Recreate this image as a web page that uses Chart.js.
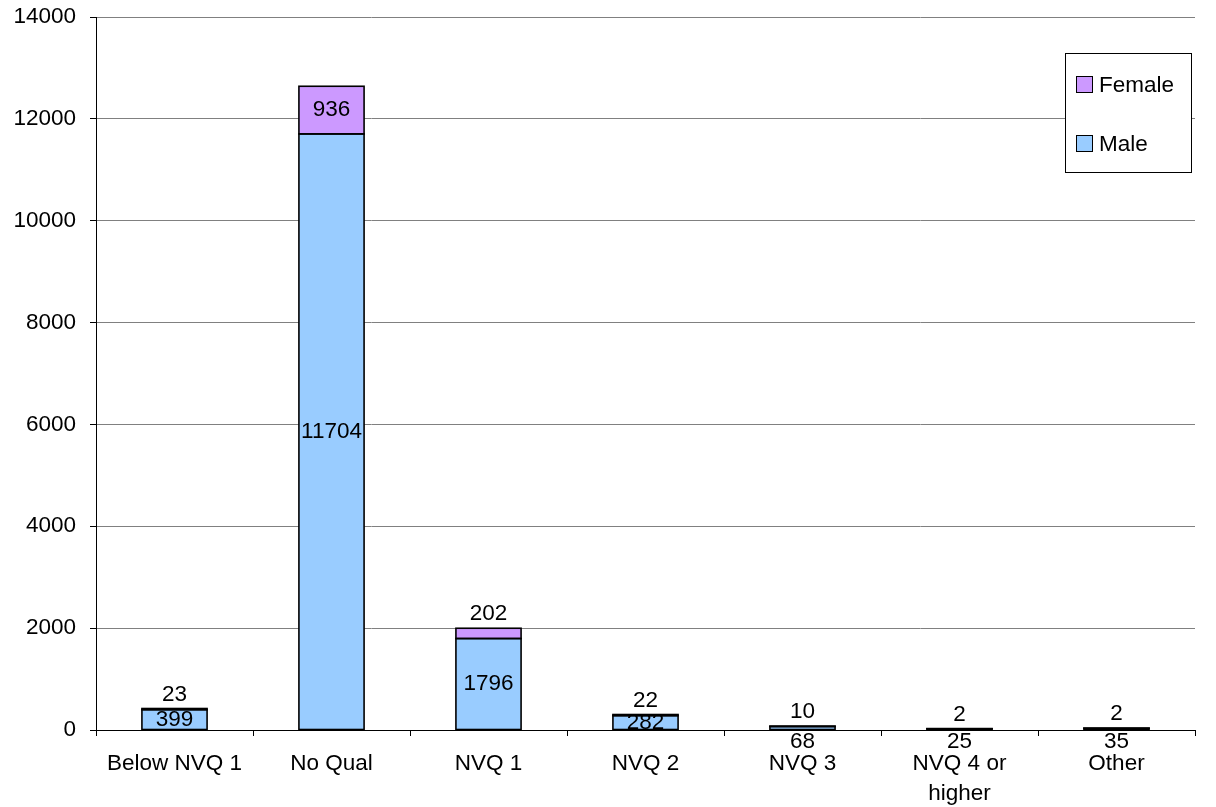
<!DOCTYPE html>
<html>
<head>
<meta charset="utf-8">
<script src="https://cdn.jsdelivr.net/npm/chart.js@4/dist/chart.umd.min.js"></script>
<style>
  html, body { margin: 0; padding: 0; background: #ffffff; }
  #wrap { width: 1216px; height: 807px; position: relative; }
</style>
</head>
<body>
<div id="wrap"><canvas id="c" width="1216" height="807"></canvas></div>
<script>
const categories = ["Below NVQ 1", "No Qual", "NVQ 1", "NVQ 2", "NVQ 3", ["NVQ 4 or", "higher"], "Other"];
const maleValues = [399, 11704, 1796, 282, 68, 25, 35];
const femaleValues = [23, 936, 202, 22, 10, 2, 2];
const yTicks = [0, 2000, 4000, 6000, 8000, 10000, 12000, 14000];

const FONT = "'Liberation Sans', Arial, sans-serif";
const FS = 22.5;

const labelPlugin = {
  id: 'segLabels',
  afterDatasetsDraw(chart) {
    const ctx = chart.ctx;
    const m = chart.getDatasetMeta(0);
    const f = chart.getDatasetMeta(1);
    ctx.save();
    ctx.strokeStyle = '#000';
    ctx.lineWidth = 1.6;
    [m, f].forEach(meta => {
      meta.data.forEach(bar => {
        const w = bar.width;
        ctx.strokeRect(bar.x - w / 2, bar.y, w, bar.base - bar.y);
      });
    });
    ctx.font = FS + 'px ' + FONT;
    ctx.fillStyle = '#000';
    ctx.textAlign = 'center';
    ctx.textBaseline = 'middle';
    m.data.forEach((bar, i) => {
      const mh = bar.base - bar.y;
      const my = mh >= 10 ? (bar.y + bar.base) / 2 : bar.base + 12;
      ctx.fillText(String(chart.data.datasets[0].data[i]), bar.x, my);
      const fb = f.data[i];
      const fh = fb.base - fb.y;
      const fy = fh >= 20 ? (fb.y + fb.base) / 2 : fb.y - 14;
      ctx.fillText(String(chart.data.datasets[1].data[i]), fb.x, fy);
    });
    ctx.restore();
  },
  afterDraw(chart) {
    const ctx = chart.ctx;
    ctx.save();
    const bx = 1065.5, by = 53.5, bw = 126, bh = 119;
    ctx.fillStyle = '#fff';
    ctx.fillRect(bx, by, bw, bh);
    ctx.strokeStyle = '#000';
    ctx.lineWidth = 1;
    ctx.strokeRect(bx, by, bw, bh);
    const items = [1, 0];
    const rowsY = [85, 144];
    ctx.font = FS + 'px ' + FONT;
    ctx.textAlign = 'left';
    ctx.textBaseline = 'middle';
    items.forEach((di, k) => {
      const ds = chart.data.datasets[di];
      const cy = rowsY[k];
      ctx.fillStyle = ds.backgroundColor;
      ctx.fillRect(1076.5, cy - 8.5, 16, 16);
      ctx.strokeStyle = '#000';
      ctx.strokeRect(1076.5, cy - 8.5, 16, 16);
      ctx.fillStyle = '#000';
      ctx.fillText(ds.label, 1099, cy + 1);
    });
    ctx.restore();
  }
};

new Chart(document.getElementById('c'), {
  type: 'bar',
  data: {
    labels: categories,
    datasets: [
      { label: 'Male', data: maleValues, backgroundColor: '#99CCFF', borderWidth: 0 },
      { label: 'Female', data: femaleValues, backgroundColor: '#CC99FF', borderWidth: 0 }
    ]
  },
  options: {
    responsive: false,
    animation: false,
    devicePixelRatio: 1,
    layout: { padding: { left: 0, right: 21, top: 17, bottom: 0 } },
    datasets: { bar: { categoryPercentage: 1.0, barPercentage: 0.415 } },
    plugins: { legend: { display: false }, tooltip: { enabled: false } },
    scales: {
      x: {
        stacked: true,
        afterFit(s) { s.height = 77; s.paddingLeft = 0; s.paddingRight = 0; },
        grid: { drawOnChartArea: false, offset: true, tickLength: 6, tickColor: '#000' },
        border: { color: '#000', width: 1 },
        ticks: { color: '#000', padding: 13, maxRotation: 0, autoSkip: false, font: { family: FONT, size: FS, lineHeight: 1.33 } }
      },
      y: {
        stacked: true,
        min: 0,
        max: 14000,
        afterFit(s) { s.width = 96; s.paddingTop = 0; s.paddingBottom = 0; },
        afterBuildTicks(s) { s.ticks = yTicks.map(v => ({ value: v })); },
        grid: { color: '#808080', lineWidth: 1, tickLength: 6, tickColor: '#000' },
        border: { color: '#000', width: 1 },
        ticks: { color: '#000', padding: 14, font: { family: FONT, size: FS, lineHeight: 0.6 }, callback: (v) => String(v) }
      }
    }
  },
  plugins: [labelPlugin]
});
</script>
</body>
</html>
